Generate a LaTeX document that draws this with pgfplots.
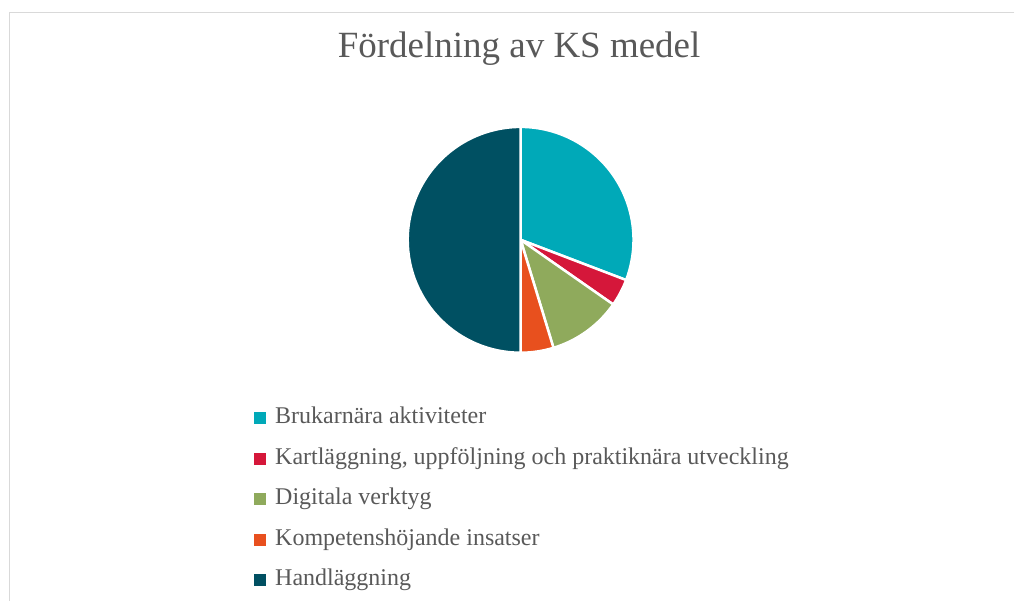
\documentclass[border=0pt]{standalone}
\usepackage{fontspec}
\setmainfont{Liberation Serif}
\usepackage{pgfplots}
\pgfplotsset{compat=1.18}
\definecolor{cA}{HTML}{00A9B8}
\definecolor{cB}{HTML}{D5173A}
\definecolor{cC}{HTML}{8FAA5C}
\definecolor{cD}{HTML}{E8501E}
\definecolor{cE}{HTML}{005062}
\definecolor{txt}{HTML}{595959}
\definecolor{brd}{HTML}{D9D9D9}
% values (percent)
\def\vA{30.8}\def\vB{3.9}\def\vC{10.6}\def\vD{4.7}\def\vE{50.0}
\begin{document}
\begin{tikzpicture}
\begin{axis}[width=1015pt,height=601pt,scale only axis,
  xmin=0,xmax=1015,ymin=0,ymax=601,enlargelimits=false,
  hide axis,clip=false,
  legend cell align=left,
  legend style={at={(axis cs:251,198)},anchor=north west,draw=none,fill=none,
    font=\fontsize{24}{29}\selectfont,text=txt,row sep=14.5pt,
    nodes={inner sep=2pt,text height=17pt,text depth=5pt}},
  legend image code/.code={\fill[#1] (0pt,-5.5pt) rectangle (11pt,5.5pt);\path[draw=none,fill=none] (19pt,0pt);}
]
\path (axis cs:0,0) rectangle (axis cs:1015,601);
\draw[brd,line width=1.5pt] (axis cs:1015,588.5) -- (axis cs:9.5,588.5) -- (axis cs:9.5,0);
\node[anchor=base,text=txt,font=\fontsize{37}{44}\selectfont] at (axis cs:519.5,543.5) {Fördelning av KS medel};

\pgfmathsetmacro{\eA}{90-3.6*\vA}
\pgfmathsetmacro{\eB}{\eA-3.6*\vB}
\pgfmathsetmacro{\eC}{\eB-3.6*\vC}
\pgfmathsetmacro{\eD}{\eC-3.6*\vD}
\pgfmathsetmacro{\eE}{\eD-3.6*\vE}
\fill[cA,draw=white,line width=2.5pt] (axis cs:521,361) -- ++(90:113pt) arc[start angle=90,end angle=\eA,radius=113pt] -- cycle;
\fill[cB,draw=white,line width=2.5pt] (axis cs:521,361) -- ++(\eA:113pt) arc[start angle=\eA,end angle=\eB,radius=113pt] -- cycle;
\fill[cC,draw=white,line width=2.5pt] (axis cs:521,361) -- ++(\eB:113pt) arc[start angle=\eB,end angle=\eC,radius=113pt] -- cycle;
\fill[cD,draw=white,line width=2.5pt] (axis cs:521,361) -- ++(\eC:113pt) arc[start angle=\eC,end angle=\eD,radius=113pt] -- cycle;
\fill[cE,draw=white,line width=2.5pt] (axis cs:521,361) -- ++(\eD:113pt) arc[start angle=\eD,end angle=\eE,radius=113pt] -- cycle;

\addlegendimage{cA}\addlegendentry{Brukarnära aktiviteter}
\addlegendimage{cB}\addlegendentry{Kartläggning, uppföljning och praktiknära utveckling}
\addlegendimage{cC}\addlegendentry{Digitala verktyg}
\addlegendimage{cD}\addlegendentry{Kompetenshöjande insatser}
\addlegendimage{cE}\addlegendentry{Handläggning}
\end{axis}
\end{tikzpicture}
\end{document}
